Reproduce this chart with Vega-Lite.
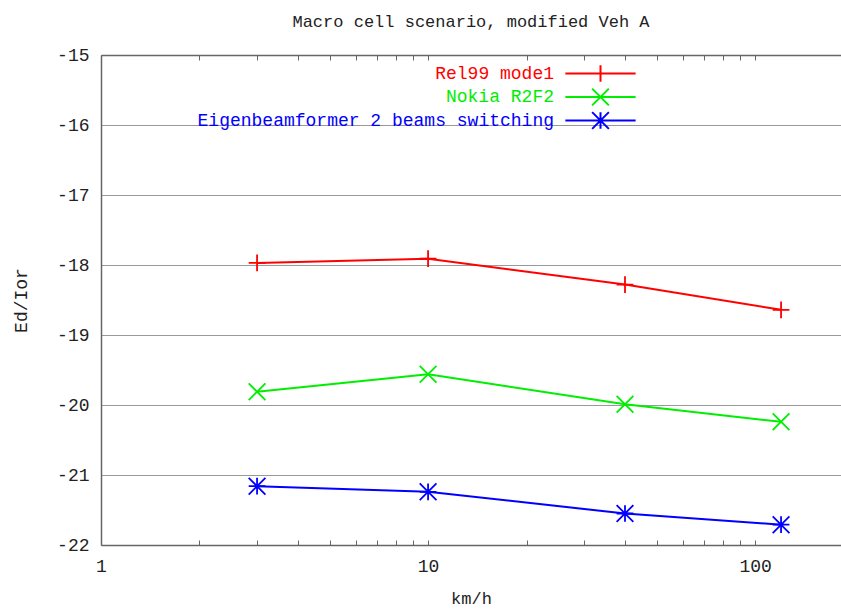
{
  "$schema": "https://vega.github.io/schema/vega-lite/v6.json",
  "width": 740,
  "height": 490,
  "autosize": {"type": "none"},
  "padding": {"left": 101, "top": 55, "right": 0, "bottom": 65},
  "background": "white",
  "title": {"text": "Macro cell scenario, modified Veh A", "anchor": "middle", "offset": 15, "fontSize": 17, "font": "Liberation Mono", "fontWeight": "normal", "color": "#222222"},
  "config": {"view": {"stroke": null}},
  "resolve": {"legend": {"color": "independent"}, "axis": {"x": "independent"}},
  "data": {"values": [
    {"scheme": "Rel99 mode1", "speed": 3, "value": -17.97},
    {"scheme": "Rel99 mode1", "speed": 10, "value": -17.91},
    {"scheme": "Rel99 mode1", "speed": 40, "value": -18.28},
    {"scheme": "Rel99 mode1", "speed": 120, "value": -18.64},
    {"scheme": "Nokia R2F2", "speed": 3, "value": -19.81},
    {"scheme": "Nokia R2F2", "speed": 10, "value": -19.56},
    {"scheme": "Nokia R2F2", "speed": 40, "value": -19.99},
    {"scheme": "Nokia R2F2", "speed": 120, "value": -20.24},
    {"scheme": "Eigenbeamformer 2 beams switching", "speed": 3, "value": -21.16},
    {"scheme": "Eigenbeamformer 2 beams switching", "speed": 10, "value": -21.24},
    {"scheme": "Eigenbeamformer 2 beams switching", "speed": 40, "value": -21.55},
    {"scheme": "Eigenbeamformer 2 beams switching", "speed": 120, "value": -21.71}
  ]},
  "encoding": {
    "y": {
      "field": "value", "type": "quantitative",
      "scale": {"domain": [-22, -15], "nice": false, "zero": false},
      "axis": {
        "values": [-22, -21, -20, -19, -18, -17, -16, -15], "labelExpr": "'' + datum.value",
        "grid": true, "gridColor": "#999999", "gridWidth": 1, "ticks": false,
        "domainColor": "#666666", "domainWidth": 1.5,
        "labelFont": "Liberation Mono", "labelFontSize": 18, "labelColor": "#222222", "labelPadding": 12,
        "labelFlush": false,
        "title": "Ed/Ior", "titleFont": "Liberation Mono", "titleFontSize": 18, "titleFontWeight": "normal", "titleColor": "#222222",
        "titleX": -80, "titleY": 245, "titleAngle": -90, "titleAlign": "center", "titleBaseline": "middle"
      }
    }
  },
  "layer": [
    {
      "mark": {"type": "line", "strokeWidth": 2},
      "encoding": {
        "x": {
          "field": "speed", "type": "quantitative",
          "scale": {"type": "log", "domain": [1, 183], "nice": false},
          "axis": {
            "orient": "bottom",
            "values": [1, 2, 3, 4, 5, 6, 7, 8, 9, 10, 20, 30, 40, 50, 60, 70, 80, 90, 100],
            "labelExpr": "indexof([1, 10, 100], datum.value) >= 0 ? '' + datum.value : ''",
            "grid": false, "ticks": true, "tickSize": -5, "tickColor": "#666666", "tickWidth": 1,
            "domainColor": "#666666", "domainWidth": 1.5,
            "labelFont": "Liberation Mono", "labelFontSize": 18, "labelColor": "#222222", "labelPadding": 17,
            "labelFlush": false, "labelOverlap": false,
            "title": "km/h", "titleFont": "Liberation Mono", "titleFontSize": 17, "titleFontWeight": "normal", "titleColor": "#222222",
            "titleY": 53, "titleBaseline": "middle"
          }
        },
        "color": {"field": "scheme", "type": "nominal",
          "scale": {"domain": ["Rel99 mode1", "Nokia R2F2", "Eigenbeamformer 2 beams switching"], "range": ["#ff0000", "#00ee00", "#0000ff"]},
          "legend": {
            "title": null, "orient": "none", "legendX": 490, "legendY": 9, "padding": 0,
            "labelFont": "Liberation Mono", "labelFontSize": 18, "labelAlign": "right", "labelOffset": -56,
            "labelLimit": 600, "rowPadding": -1.5, "symbolSize": 280, "symbolStrokeWidth": 2,
            "encode": {
              "symbols": {"update": {
                "shape": {"signal": "datum.value === 'Rel99 mode1' ? 'M-4.2,0L4.2,0M0,-1L0,1' : datum.value === 'Nokia R2F2' ? 'M-4.2,0L4.2,0M-1,-1L1,1M-1,1L1,-1' : 'M-4.2,0L4.2,0M0,-1L0,1M-1,-1L1,1M-1,1L1,-1'"},
                "fill": {"value": "transparent"},
                "strokeWidth": {"value": 2},
                "opacity": {"value": 1}
              }},
              "labels": {"update": {
                "fill": {"signal": "datum.value === 'Rel99 mode1' ? '#ff0000' : datum.value === 'Nokia R2F2' ? '#00ee00' : '#0000ff'"}
              }}
            }
          }
        }
      }
    },
    {
      "mark": {"type": "point", "filled": false, "size": 280, "strokeWidth": 1.8, "opacity": 1},
      "encoding": {
        "x": {
          "field": "speed", "type": "quantitative",
          "scale": {"type": "log", "domain": [1, 183], "nice": false},
          "axis": {
            "orient": "top",
            "values": [1, 2, 3, 4, 5, 6, 7, 8, 9, 10, 20, 30, 40, 50, 60, 70, 80, 90, 100],
            "labels": false, "grid": false, "ticks": true, "tickSize": -5, "tickColor": "#666666", "tickWidth": 1,
            "domainColor": "#666666", "domainWidth": 1.5, "title": null
          }
        },
        "color": {"field": "scheme", "type": "nominal",
          "scale": {"domain": ["Rel99 mode1", "Nokia R2F2", "Eigenbeamformer 2 beams switching"], "range": ["#ff0000", "#00ee00", "#0000ff"]},
          "legend": null},
        "shape": {"field": "scheme", "type": "nominal",
          "scale": {"domain": ["Rel99 mode1", "Nokia R2F2", "Eigenbeamformer 2 beams switching"],
            "range": ["M-1,0L1,0M0,-1L0,1", "M-1,-1L1,1M-1,1L1,-1", "M-1,0L1,0M0,-1L0,1M-1,-1L1,1M-1,1L1,-1"]},
          "legend": null}
      }
    }
  ]
}
